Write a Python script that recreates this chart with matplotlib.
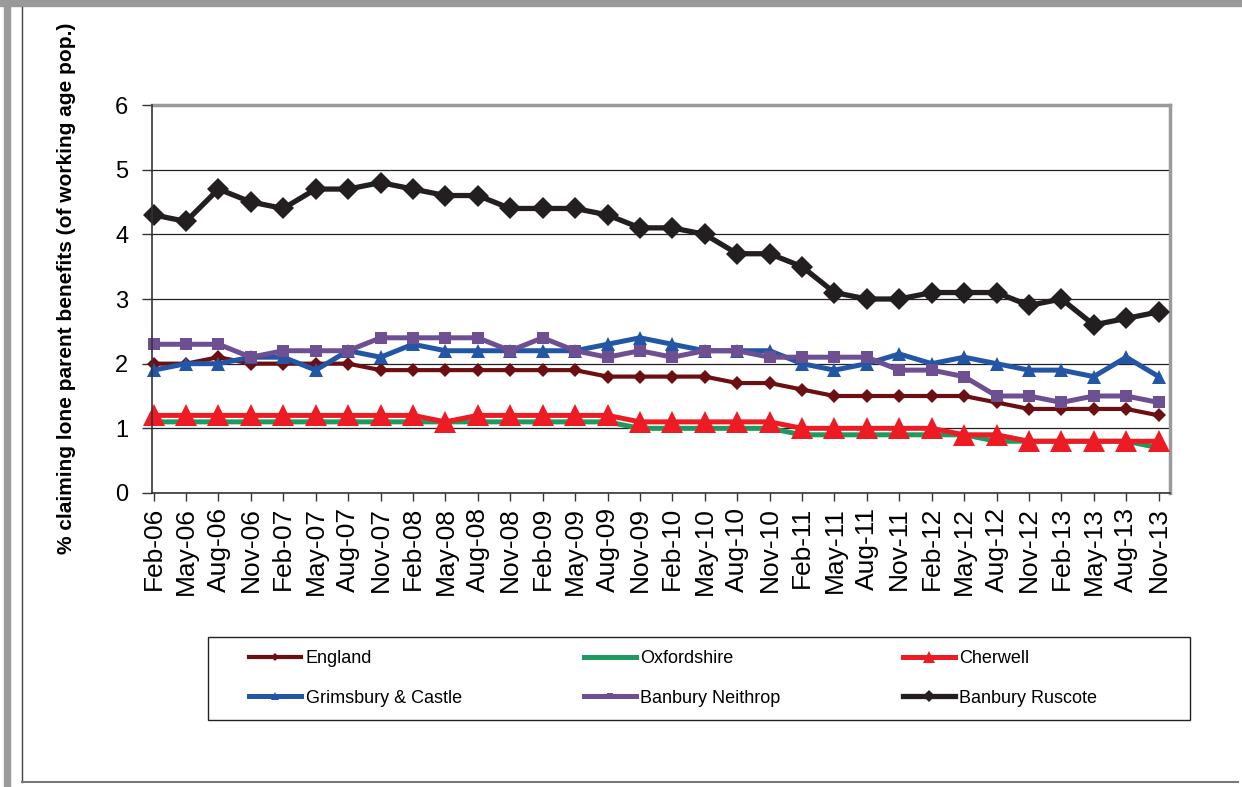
import matplotlib
matplotlib.use("Agg")
import matplotlib.pyplot as plt
from matplotlib.lines import Line2D
from matplotlib.patches import Rectangle

plt.rcParams['font.family'] = ['Liberation Sans', 'DejaVu Sans']

# quarterly dates, Feb-06 .. Nov-13
months = ["Feb", "May", "Aug", "Nov"]
labels = [m + "-" + y for y in ["06", "07", "08", "09", "10", "11", "12", "13"] for m in months]

england = [2.0, 2.0, 2.1, 2.0, 2.0, 2.0, 2.0, 1.9, 1.9, 1.9, 1.9, 1.9, 1.9, 1.9, 1.8, 1.8,
           1.8, 1.8, 1.7, 1.7, 1.6, 1.5, 1.5, 1.5, 1.5, 1.5, 1.4, 1.3, 1.3, 1.3, 1.3, 1.2]
oxfordshire = [1.1, 1.1, 1.1, 1.1, 1.1, 1.1, 1.1, 1.1, 1.1, 1.1, 1.1, 1.1, 1.1, 1.1, 1.1, 1.0,
               1.0, 1.0, 1.0, 1.0, 0.9, 0.9, 0.9, 0.9, 0.9, 0.9, 0.8, 0.8, 0.8, 0.8, 0.8, 0.7]
cherwell = [1.2, 1.2, 1.2, 1.2, 1.2, 1.2, 1.2, 1.2, 1.2, 1.1, 1.2, 1.2, 1.2, 1.2, 1.2, 1.1,
            1.1, 1.1, 1.1, 1.1, 1.0, 1.0, 1.0, 1.0, 1.0, 0.9, 0.9, 0.8, 0.8, 0.8, 0.8, 0.8]
grimsbury = [1.9, 2.0, 2.0, 2.1, 2.1, 1.9, 2.2, 2.1, 2.3, 2.2, 2.2, 2.2, 2.2, 2.2, 2.3, 2.4,
             2.3, 2.2, 2.2, 2.2, 2.0, 1.9, 2.0, 2.15, 2.0, 2.1, 2.0, 1.9, 1.9, 1.8, 2.1, 1.8]
neithrop = [2.3, 2.3, 2.3, 2.1, 2.2, 2.2, 2.2, 2.4, 2.4, 2.4, 2.4, 2.2, 2.4, 2.2, 2.1, 2.2,
            2.1, 2.2, 2.2, 2.1, 2.1, 2.1, 2.1, 1.9, 1.9, 1.8, 1.5, 1.5, 1.4, 1.5, 1.5, 1.4]
ruscote = [4.3, 4.2, 4.7, 4.5, 4.4, 4.7, 4.7, 4.8, 4.7, 4.6, 4.6, 4.4, 4.4, 4.4, 4.3, 4.1,
           4.1, 4.0, 3.7, 3.7, 3.5, 3.1, 3.0, 3.0, 3.1, 3.1, 3.1, 2.9, 3.0, 2.6, 2.7, 2.8]

x = list(range(len(labels)))

W, H = 1242, 787
fig = plt.figure(figsize=(W / 100, H / 100), dpi=100)
ax = fig.add_axes([152 / W, 1 - 493 / H, (1170 - 152) / W, (493 - 105) / H])

series = [
    ("England", england, "#6b0f12", "D", 7.5, 3.0),
    ("Oxfordshire", oxfordshire, "#1f9a5e", "D", 3, 3.6),
    ("Cherwell", cherwell, "#ed1c24", "^", 15.5, 3.6),
    ("Grimsbury & Castle", grimsbury, "#2456a6", "^", 10, 3.6),
    ("Banbury Neithrop", neithrop, "#6e4f92", "s", 8, 3.6),
    ("Banbury Ruscote", ruscote, "#231f20", "D", 11.5, 3.8),
]
handles = {}
for i, (name, vals, col, mk, ms, lw) in enumerate(series):
    h, = ax.plot(x, vals, color=col, marker=mk, markersize=ms, linewidth=lw,
                 markeredgewidth=0, label=name, zorder=3 + i, clip_on=False)
    handles[name] = h

ax.set_xlim(-0.05, 31.35)
ax.set_ylim(0, 6)
ax.set_yticks(range(0, 7))
ax.set_xticks(x)
ax.set_xticklabels(labels, rotation=90, fontsize=19)
ax.tick_params(axis='y', labelsize=17, length=7, width=1, color="#333333", pad=10)
ax.tick_params(axis='x', length=6, width=1, color="#333333", pad=4)
ax.grid(axis='y', color="#222222", linewidth=0.9)
ax.set_axisbelow(True)

for side in ["top", "right"]:
    ax.spines[side].set_color("#9a9a9a")
    ax.spines[side].set_linewidth(2.5)
for side in ["left", "bottom"]:
    ax.spines[side].set_color("#333333")
    ax.spines[side].set_linewidth(1.2)
    ax.spines[side].set_zorder(10)

ax.set_ylabel("% claiming lone parent benefits (of working age pop.)",
              fontsize=15, fontweight="bold")
ax.yaxis.set_label_coords(-0.075, 0.528)

# legend box drawn separately, entries laid out row by row
fig.patches.append(Rectangle((208 / W, 1 - 720 / H), (1190 - 208) / W, 83 / H,
                             transform=fig.transFigure, fill=False,
                             edgecolor="#222222", linewidth=1.0, zorder=5))
order = ["England", "Grimsbury & Castle", "Oxfordshire", "Banbury Neithrop",
         "Cherwell", "Banbury Ruscote"]
leg = fig.legend([handles[n] for n in order], order, ncol=3, loc="center",
                 bbox_to_anchor=((208 + 1190) / 2 / W - 26 / W, 1 - 678.5 / H),
                 fontsize=13, frameon=False, handlelength=2.9, handletextpad=0.25,
                 columnspacing=6.75, labelspacing=1.25, markerscale=0.55)

# page frame
fig.patches.append(Rectangle((0, 1 - 6 / H), 1, 6 / H, transform=fig.transFigure,
                             color="#9a9a9a", zorder=0))
fig.patches.append(Rectangle((4 / W, 0), 6 / W, 1, transform=fig.transFigure,
                             color="#9a9a9a", zorder=0))
fig.lines.append(Line2D([22 / W, 22 / W], [1 - 782 / H, 1 - 7 / H],
                        transform=fig.transFigure, color="#444444", linewidth=1))
fig.lines.append(Line2D([22 / W, 1238 / W], [1 - 782 / H, 1 - 782 / H],
                        transform=fig.transFigure, color="#777777", linewidth=1.5))

fig.savefig("out.png", dpi=100)
